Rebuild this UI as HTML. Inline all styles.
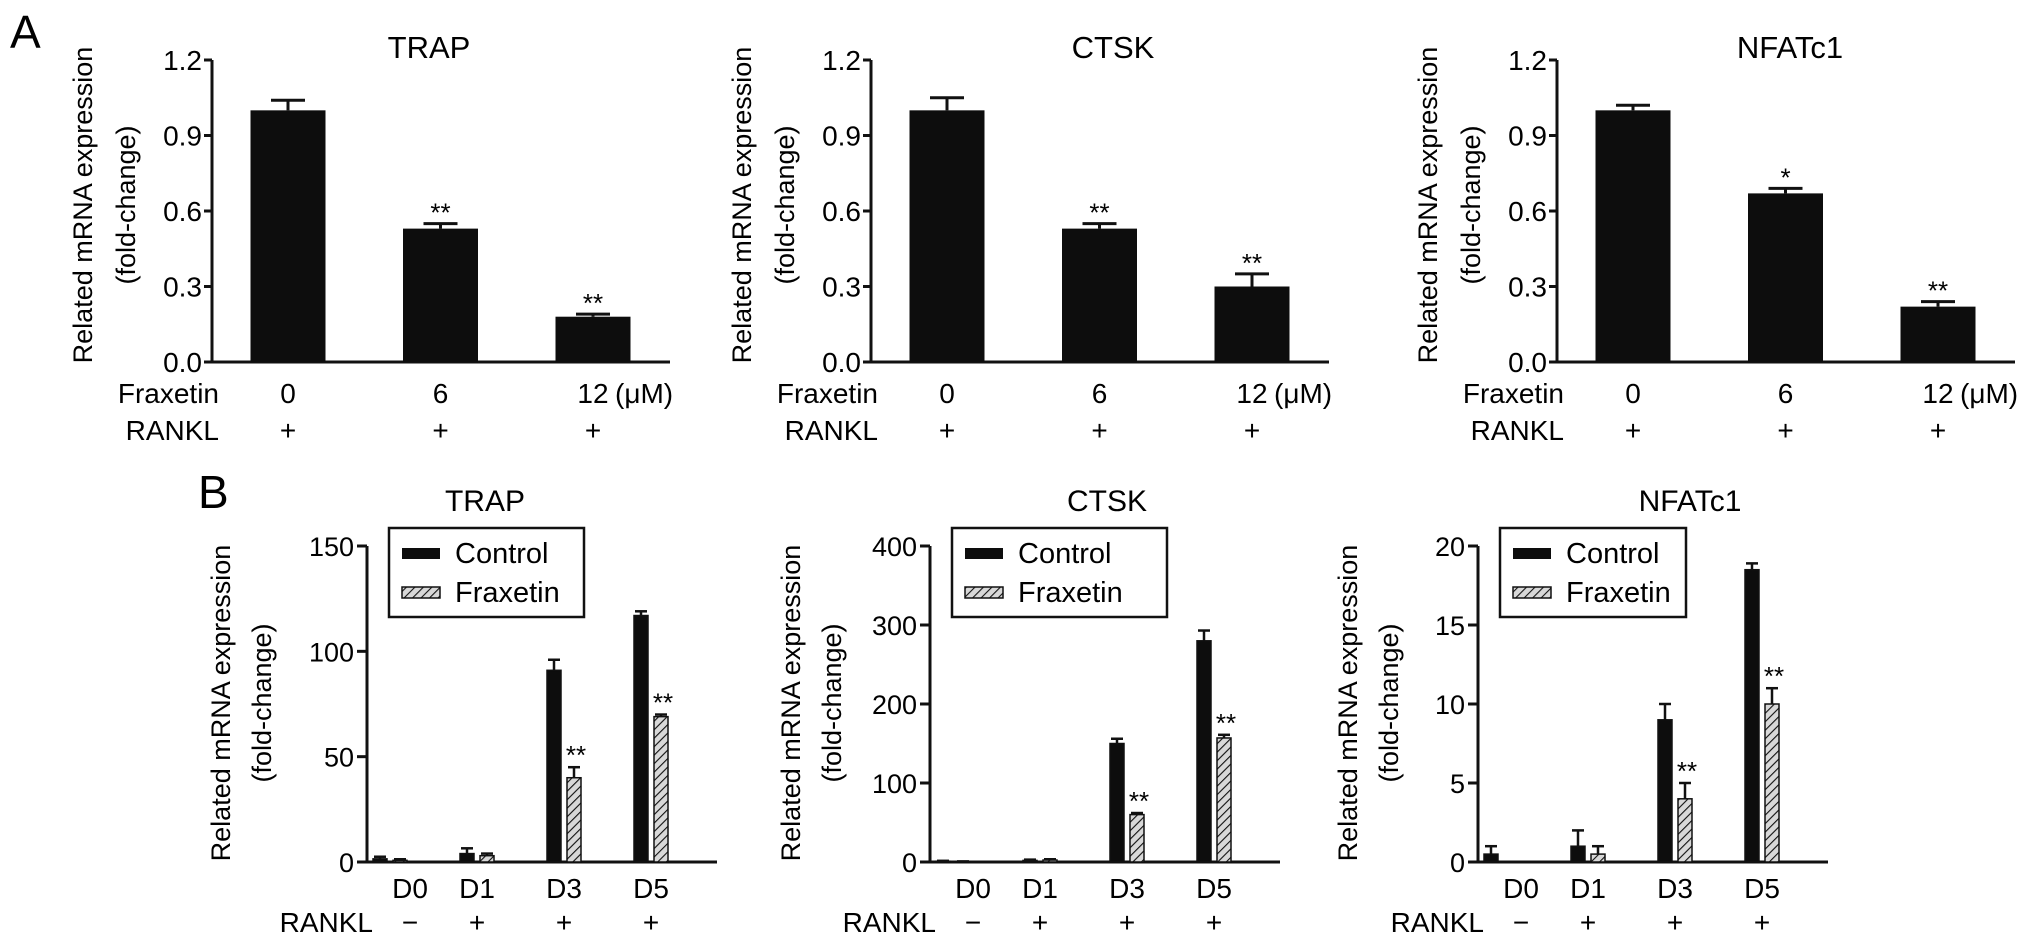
<!DOCTYPE html>
<html><head><meta charset="utf-8"><style>
html,body{margin:0;padding:0;background:#fff;}
svg{display:block;font-family:"Liberation Sans",Arial,sans-serif;}
</style></head><body>
<svg id="fig" width="2032" height="942" viewBox="0 0 2032 942" xmlns="http://www.w3.org/2000/svg">
<defs>
<pattern id="hatch" patternUnits="userSpaceOnUse" width="6" height="6" patternTransform="rotate(45)">
<rect width="6" height="6" fill="#d8d8d8"/>
<line x1="0" y1="0" x2="0" y2="6" stroke="#111" stroke-width="2.2"/>
</pattern>
</defs>
<text x="10" y="48" font-size="46">A</text>
<text x="198" y="508" font-size="46">B</text>
</svg>
<script>
// ---- Panel A data ----
const aGenes = ["TRAP", "CTSK", "NFATc1"];
const aDoses = ["0", "6", "12"];
const aTicks = [0.0, 0.3, 0.6, 0.9, 1.2];
const aTickLabels = ["0.0", "0.3", "0.6", "0.9", "1.2"];
const aTrapVals = [1.0, 0.53, 0.18];
const aTrapErr = [0.04, 0.02, 0.01];
const aCtskVals = [1.0, 0.53, 0.30];
const aCtskErr = [0.05, 0.02, 0.05];
const aNfatVals = [1.0, 0.67, 0.22];
const aNfatErr = [0.02, 0.02, 0.02];
const aTrapStars = ["", "**", "**"];
const aCtskStars = ["", "**", "**"];
const aNfatStars = ["", "*", "**"];
// ---- Panel B data ----
const bDays = ["D0", "D1", "D3", "D5"];
const bRankl = ["\u2212", "+", "+", "+"];
const bTrapTicks = [0, 50, 100, 150];
const bCtskTicks = [0, 100, 200, 300, 400];
const bNfatTicks = [0, 5, 10, 15, 20];
const bTrapCtrl = [1.5, 4, 91, 117];
const bTrapCtrlErr = [1, 2.5, 5, 2];
const bTrapFrax = [0.8, 3, 40, 69];
const bTrapFraxErr = [0.5, 1, 5, 1];
const bCtskCtrl = [1, 2, 150, 280];
const bCtskCtrlErr = [0.5, 1, 6, 13];
const bCtskFrax = [0.5, 2.5, 60, 157];
const bCtskFraxErr = [0.3, 1, 2, 4];
const bNfatCtrl = [0.5, 1, 9, 18.5];
const bNfatCtrlErr = [0.5, 1, 1, 0.4];
const bNfatFrax = [0, 0.5, 4, 10];
const bNfatFraxErr = [0, 0.5, 1, 1];
const bTrapStars = ["", "", "**", "**"];
const bCtskStars = ["", "", "**", "**"];
const bNfatStars = ["", "", "**", "**"];

const NS = "http://www.w3.org/2000/svg";
const svg = document.getElementById("fig");
function mk(tag, attrs, parent) {
  const el = document.createElementNS(NS, tag);
  for (const k in attrs) el.setAttribute(k, attrs[k]);
  (parent || svg).appendChild(el);
  return el;
}
function txt(s, attrs, parent) { const t = mk("text", attrs, parent); t.textContent = s; return t; }

function panelA(ax, title, vals, errs, stars, key, unitExtra) {
  const g = mk("g", {});
  
  
  const y0 = 362, yTop = 60, vmax = 1.2;
  const Y = v => y0 - v / vmax * (y0 - yTop);
  const X = i => ax + 76 + i * 152.5;
  const t = txt(title, {x: ax + (key === "trap" ? 217 : key === "ctsk" ? 242 : 233), y: 58, "font-size": 31, "text-anchor": "middle"}, g);
  
  
  const ya = mk("line", {x1: ax, y1: Y(vmax), x2: ax, y2: y0, stroke: "#111", "stroke-width": 3}, g);
  
  
  const xa = mk("line", {x1: ax - 8, y1: y0, x2: ax + 458, y2: y0, stroke: "#111", "stroke-width": 3}, g);
  
  
  aTicks.forEach((v, i) => {
    const tk = mk("line", {x1: ax - 8, y1: Y(v), x2: ax, y2: Y(v), stroke: "#111", "stroke-width": 3}, g);
    
    
    const tl = txt(aTickLabels[i], {x: ax - 10, y: Y(v) + 10, "font-size": 28, "text-anchor": "end"}, g);
    
    
  });
  const yl = txt("Related mRNA expression", {x: 0, y: 0, "font-size": 27, "text-anchor": "middle", transform: `translate(${ax - 120},205) rotate(-90)`}, g);
  
  
  const yl2 = txt("(fold-change)", {x: 0, y: 0, "font-size": 27, "text-anchor": "middle", transform: `translate(${ax - 77},205) rotate(-90)`}, g);
  
  
  vals.forEach((v, i) => {
    const cx = X(i);
    const e = errs[i];
    const el = mk("line", {x1: cx, y1: Y(v), x2: cx, y2: Y(v + e), stroke: "#111", "stroke-width": 3}, g);
    
    
    const cap = mk("line", {x1: cx - 17, y1: Y(v + e), x2: cx + 17, y2: Y(v + e), stroke: "#111", "stroke-width": 3}, g);
    
    
    const b = mk("rect", {x: cx - 37.5, y: Y(v), width: 75, height: y0 - Y(v), fill: "#0d0d0d"}, g);
    
    
    if (stars[i]) {
      const s = txt(stars[i], {x: cx, y: Y(v + e) - 2, "font-size": 26, "text-anchor": "middle"}, g);
      
      
    }
    const d = txt(aDoses[i], {x: cx, y: 403, "font-size": 28, "text-anchor": "middle"}, g);
    
    
    const p = txt("+", {x: cx, y: 440, "font-size": 28, "text-anchor": "middle"}, g);
    
    
  });
  const u = txt("(\u03bcM)", {x: X(2) + 22, y: 403, "font-size": 28}, g);
  
  
  const fl = txt("Fraxetin", {x: ax + 7, y: 403, "font-size": 28, "text-anchor": "end"}, g);
  
  
  const rl = txt("RANKL", {x: ax + 7, y: 440, "font-size": 28, "text-anchor": "end"}, g);
  
  
}

function panelB(ax, title, titleDx, ticks, ctrl, ctrlE, frax, fraxE, stars, key, legW, ylDx) {
  const g = mk("g", {});
  
  
  const y0 = 862, yTop = 546, vmax = ticks[ticks.length - 1];
  const Y = v => y0 - v / vmax * (y0 - yTop);
  const X = i => ax + 23 + i * 87;
  const t = txt(title, {x: ax + titleDx, y: 511, "font-size": 30, "text-anchor": "middle"}, g);
  
  
  const ya = mk("line", {x1: ax, y1: Y(vmax), x2: ax, y2: y0, stroke: "#111", "stroke-width": 3}, g);
  
  
  const xa = mk("line", {x1: ax - 10, y1: y0, x2: ax + 350, y2: y0, stroke: "#111", "stroke-width": 3}, g);
  
  
  ticks.forEach(v => {
    const tk = mk("line", {x1: ax - 10, y1: Y(v), x2: ax, y2: Y(v), stroke: "#111", "stroke-width": 3}, g);
    
    
    const tl = txt(String(v), {x: ax - 13, y: Y(v) + 10, "font-size": 27, "text-anchor": "end"}, g);
    
    
  });
  const yl = txt("Related mRNA expression", {x: 0, y: 0, "font-size": 27, "text-anchor": "middle", transform: `translate(${ax + ylDx},703) rotate(-90)`}, g);
  
  
  const yl2 = txt("(fold-change)", {x: 0, y: 0, "font-size": 27, "text-anchor": "middle", transform: `translate(${ax + ylDx + 41},703) rotate(-90)`}, g);
  
  
  function bar(cx, v, e, fill, nm) {
    if (e > 0) {
      const el = mk("line", {x1: cx, y1: Y(v), x2: cx, y2: Y(v + e), stroke: "#111", "stroke-width": 2.5}, g);
      
      
      const cap = mk("line", {x1: cx - 6, y1: Y(v + e), x2: cx + 6, y2: Y(v + e), stroke: "#111", "stroke-width": 2.5}, g);
      
      
    }
    const b = mk("rect", {x: cx - 7, y: Y(v), width: 14, height: Math.max(0, y0 - Y(v)), fill: fill, stroke: "#111", "stroke-width": 1.5}, g);
    
    
  }
  bDays.forEach((d, i) => {
    bar(X(i) - 10, ctrl[i], ctrlE[i], "#0d0d0d", 'bar-control-' + d);
    bar(X(i) + 10, frax[i], fraxE[i], "url(#hatch)", 'bar-fraxetin-' + d);
    if (stars[i]) {
      const s = txt(stars[i], {x: X(i) + 12, y: Y(frax[i] + fraxE[i]) - 3, "font-size": 26, "text-anchor": "middle"}, g);
      
      
    }
    const dl = txt(d, {x: X(i) + (i === 0 ? 20 : 0), y: 898, "font-size": 28, "text-anchor": "middle"}, g);
    
    
    const rk = txt(bRankl[i], {x: X(i) + (i === 0 ? 20 : 0), y: 932, "font-size": 28, "text-anchor": "middle"}, g);
    
    
  });
  const rl = txt("RANKL", {x: ax + 6, y: 932, "font-size": 28, "text-anchor": "end"}, g);
  
  
  const lg = mk("g", {}, g);
  
  
  const lx = ax + 22;
  const box = mk("rect", {x: lx, y: 528, width: legW, height: 89, fill: "#fff", stroke: "#111", "stroke-width": 2.5}, lg);
  
  
  const s1 = mk("rect", {x: lx + 13, y: 548, width: 38, height: 11, fill: "#0d0d0d"}, lg);
  
  
  const t1 = txt("Control", {x: lx + 66, y: 563, "font-size": 29}, lg);
  
  
  const s2 = mk("rect", {x: lx + 13, y: 587, width: 38, height: 11, fill: "url(#hatch)", stroke: "#111", "stroke-width": 1.5}, lg);
  
  
  const t2 = txt("Fraxetin", {x: lx + 66, y: 602, "font-size": 29}, lg);
  
  
}

panelA(212, aGenes[0], aTrapVals, aTrapErr, aTrapStars, "trap");
panelA(871, aGenes[1], aCtskVals, aCtskErr, aCtskStars, "ctsk");
panelA(1557, aGenes[2], aNfatVals, aNfatErr, aNfatStars, "nfatc1");
panelB(367, "TRAP", 118, bTrapTicks, bTrapCtrl, bTrapCtrlErr, bTrapFrax, bTrapFraxErr, bTrapStars, "trap", 195, -137);
panelB(930, "CTSK", 177, bCtskTicks, bCtskCtrl, bCtskCtrlErr, bCtskFrax, bCtskFraxErr, bCtskStars, "ctsk", 215, -130);
panelB(1478, "NFATc1", 212, bNfatTicks, bNfatCtrl, bNfatCtrlErr, bNfatFrax, bNfatFraxErr, bNfatStars, "nfatc1", 186, -121);
</script>
</body></html>
